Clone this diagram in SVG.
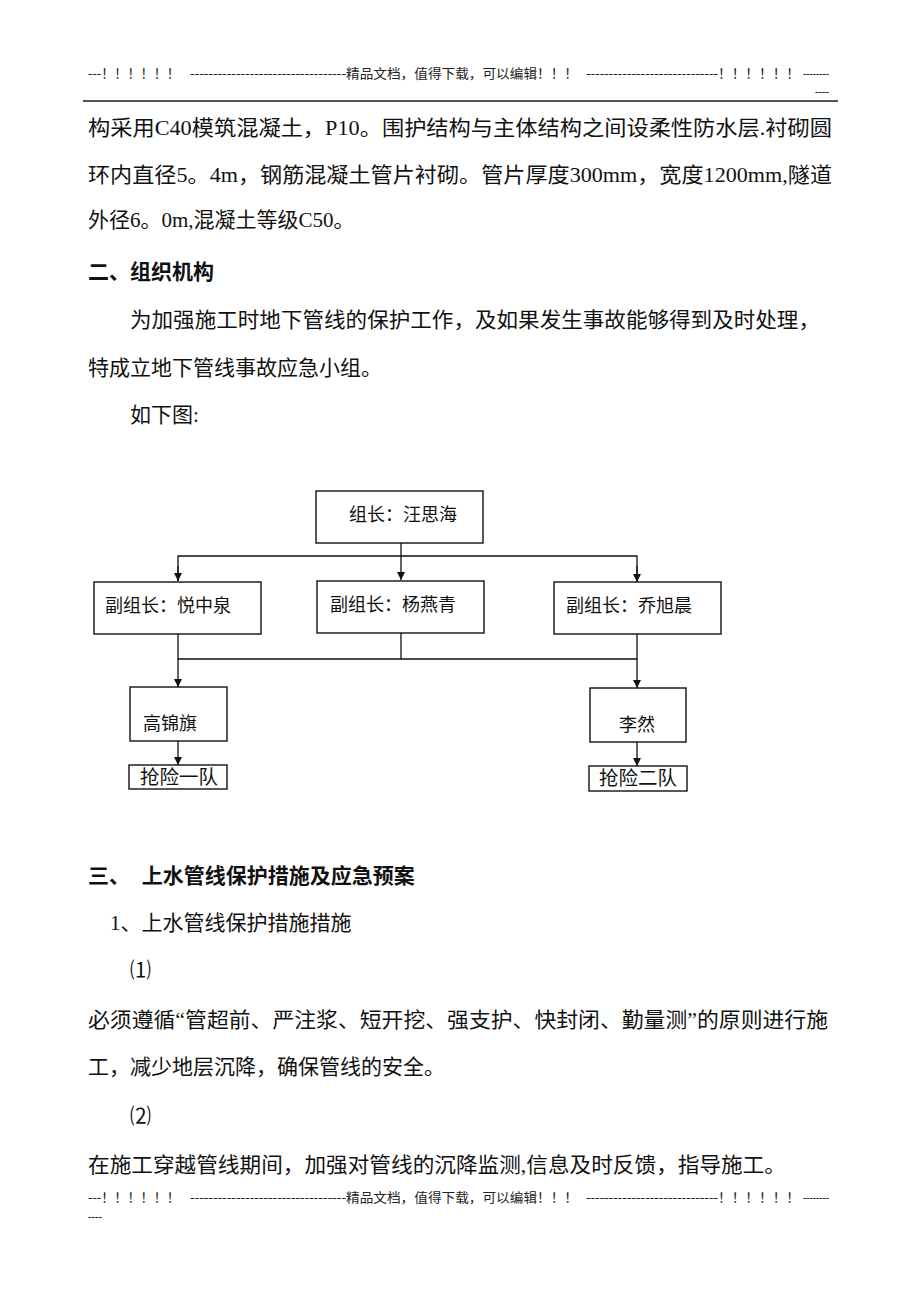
<svg xmlns="http://www.w3.org/2000/svg" width="920" height="1302" viewBox="0 0 920 1302">
<style>
.hd{font-family:"Liberation Serif","Noto Sans CJK SC",serif;font-size:13px;fill:#222}
.bd{font-family:"Liberation Serif","Noto Sans CJK SC",serif;font-size:21px;fill:#111}
.bh{font-family:"Liberation Sans","Noto Sans CJK SC",sans-serif;font-size:21px;font-weight:bold;fill:#111}
.nt{font-family:"Liberation Sans","Noto Sans CJK SC",sans-serif;font-size:18px;fill:#111}
.bx{fill:#fff;stroke:#111;stroke-width:1.4}
.ln{fill:none;stroke:#111;stroke-width:1.3}
</style>
<defs>
<marker id="ah" viewBox="0 0 10 10" refX="10" refY="5" markerWidth="8" markerHeight="8" markerUnits="userSpaceOnUse" orient="auto">
<path d="M0,0 L10,5 L0,10 z" fill="#111"/>
</marker>
</defs>
<rect width="920" height="1302" fill="#fff"/>

<g id="header">
<text class="hd" x="88" y="78" textLength="92" lengthAdjust="spacingAndGlyphs">---！！！！！！</text>
<text class="hd" x="190" y="78" textLength="156" lengthAdjust="spacingAndGlyphs">----------------------------------</text>
<text class="hd" x="346" y="78" textLength="232" lengthAdjust="spacingAndGlyphs">精品文档，值得下载，可以编辑！！！</text>
<text class="hd" x="586" y="78" textLength="132" lengthAdjust="spacingAndGlyphs">-----------------------------</text>
<text class="hd" x="718" y="78" textLength="82" lengthAdjust="spacingAndGlyphs">！！！！！！</text>
<text class="hd" x="803" y="78" textLength="26" lengthAdjust="spacingAndGlyphs">--------</text>
<text class="hd" x="815" y="96" textLength="14" lengthAdjust="spacingAndGlyphs">----</text>
<line x1="83" y1="101" x2="838" y2="101" stroke="#555" stroke-width="2"/>
</g>

<g id="body-top">
<text class="bd" x="88" y="135" textLength="744" lengthAdjust="spacingAndGlyphs">构采用C40模筑混凝土，P10。围护结构与主体结构之间设柔性防水层.衬砌圆</text>
<text class="bd" x="88" y="182" textLength="744" lengthAdjust="spacingAndGlyphs">环内直径5。4m，钢筋混凝土管片衬砌。管片厚度300mm，宽度1200mm,隧道</text>
<text class="bd" x="88" y="227">外径6。0m,混凝土等级C50。</text>
<text class="bh" x="88" y="279">二、组织机构</text>
<text class="bd" x="130" y="327" textLength="690" lengthAdjust="spacingAndGlyphs">为加强施工时地下管线的保护工作，及如果发生事故能够得到及时处理，</text>
<text class="bd" x="88" y="375">特成立地下管线事故应急小组。</text>
<text class="bd" x="130" y="422">如下图:</text>
</g>

<g id="connectors">
<path class="ln" d="M401,543 V580" marker-end="url(#ah)"/>
<path class="ln" d="M178,581 V556 H637 V581" />
<path class="ln" d="M178,566 V581" marker-end="url(#ah)"/>
<path class="ln" d="M637,566 V582" marker-end="url(#ah)"/>
<path class="ln" d="M178,634 V659 H637 V634"/>
<path class="ln" d="M401,633 V659"/>
<path class="ln" d="M178,659 V687" marker-end="url(#ah)"/>
<path class="ln" d="M637,659 V688" marker-end="url(#ah)"/>
<path class="ln" d="M178,741 V765" marker-end="url(#ah)"/>
<path class="ln" d="M637,742 V766" marker-end="url(#ah)"/>
</g>

<g id="n-leader">
<rect class="bx" x="316" y="491" width="167" height="52"/>
<text class="nt" x="349" y="521">组长：汪思海</text>
</g>
<g id="n-deputy1">
<rect class="bx" x="94" y="582" width="167" height="52"/>
<text class="nt" x="105" y="612">副组长：悦中泉</text>
</g>
<g id="n-deputy2">
<rect class="bx" x="317" y="581" width="167" height="52"/>
<text class="nt" x="330" y="611">副组长：杨燕青</text>
</g>
<g id="n-deputy3">
<rect class="bx" x="554" y="582" width="167" height="52"/>
<text class="nt" x="566" y="612">副组长：乔旭晨</text>
</g>
<g id="n-gao">
<rect class="bx" x="130" y="687" width="97" height="54"/>
<text class="nt" x="143" y="730">高锦旗</text>
</g>
<g id="n-li">
<rect class="bx" x="590" y="688" width="96" height="54"/>
<text class="nt" x="619" y="731">李然</text>
</g>
<g id="n-team1">
<rect class="bx" x="129" y="765" width="98" height="24"/>
<text class="nt" x="140" y="784" style="font-size:19.5px">抢险一队</text>
</g>
<g id="n-team2">
<rect class="bx" x="589" y="766" width="98" height="25"/>
<text class="nt" x="599" y="785" style="font-size:19.5px">抢险二队</text>
</g>

<g id="body-bottom">
<text class="bh" x="88" y="883" xml:space="preserve">三、  上水管线保护措施及应急预案</text>
<text class="bd" x="110" y="930">1、上水管线保护措施措施</text>
<text class="bd" x="130" y="977">⑴</text>
<text class="bd" x="88" y="1027" textLength="740" lengthAdjust="spacingAndGlyphs">必须遵循“管超前、严注浆、短开挖、强支护、快封闭、勤量测”的原则进行施</text>
<text class="bd" x="88" y="1074">工，减少地层沉降，确保管线的安全。</text>
<text class="bd" x="130" y="1123">⑵</text>
<text class="bd" x="88" y="1172" textLength="698" lengthAdjust="spacingAndGlyphs">在施工穿越管线期间，加强对管线的沉降监测,信息及时反馈，指导施工。</text>
</g>

<g id="footer">
<text class="hd" x="88" y="1202" textLength="92" lengthAdjust="spacingAndGlyphs">---！！！！！！</text>
<text class="hd" x="190" y="1202" textLength="156" lengthAdjust="spacingAndGlyphs">----------------------------------</text>
<text class="hd" x="346" y="1202" textLength="232" lengthAdjust="spacingAndGlyphs">精品文档，值得下载，可以编辑！！！</text>
<text class="hd" x="586" y="1202" textLength="132" lengthAdjust="spacingAndGlyphs">-----------------------------</text>
<text class="hd" x="718" y="1202" textLength="82" lengthAdjust="spacingAndGlyphs">！！！！！！</text>
<text class="hd" x="803" y="1202" textLength="26" lengthAdjust="spacingAndGlyphs">--------</text>
<text class="hd" x="88" y="1221" textLength="14" lengthAdjust="spacingAndGlyphs">----</text>
</g>
</svg>
